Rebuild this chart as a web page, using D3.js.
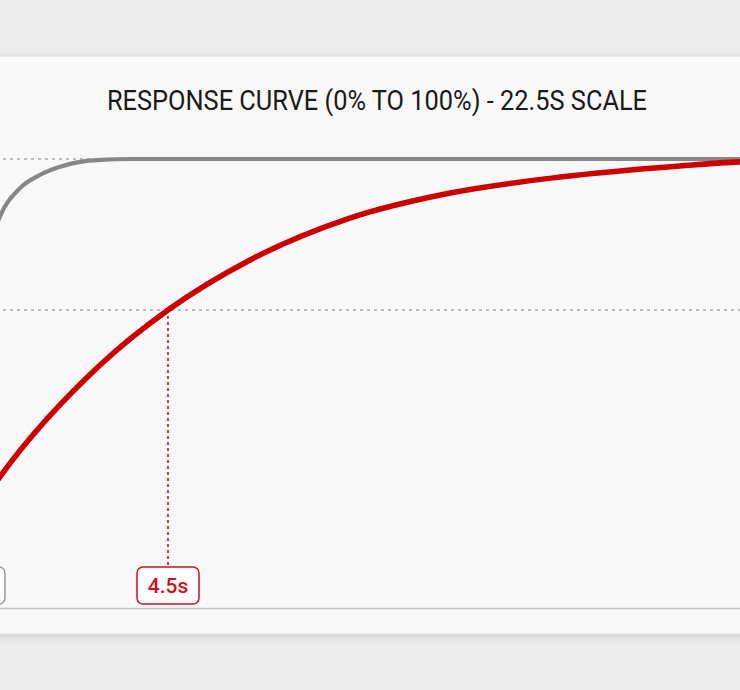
<!DOCTYPE html>
<html>
<head>
<meta charset="utf-8">
<script src="https://cdn.jsdelivr.net/npm/d3@7"></script>
<style>
  body { margin: 0; background: #ececec; overflow: hidden; }
  svg { display: block; }
</style>
</head>
<body>
<svg></svg>
<script>
// Chart values (time in seconds, response in %)
const title = "RESPONSE CURVE (0% TO 100%) - 22.5S SCALE";
const redTimes  = [0, 1.18, 3.16, 4.5, 6.12, 8.09, 10.07, 12.24, 14.6, 15.79, 18, 22.5];
const redValues = [0, 22.5, 49.8, 63.2, 75.4, 85.6, 91.7, 95.6, 98.3, 99.3, 99.8, 100];
const grayTimes  = [0, 0.35, 0.67, 1.18, 1.58, 1.97, 2.37, 2.76, 3.16, 3.75, 22.5];
const grayValues = [0, 40, 63.2, 85.9, 92.9, 96.1, 98.1, 99.3, 99.8, 100, 100];
const refLevels = [100, 63.2];
const markerTimes  = [0.67, 4.5];
const markerLabels = ["0.7s", "4.5s"];

const width = 740;
const height = 690;
const svg = d3.select("svg").attr("width", width).attr("height", height);

// Scales: the view is a close crop, so the time range runs past both edges
const xScale = d3.scaleLinear().domain([0, 22.5]).range([-60, 1080]);
const yScale = d3.scaleLinear().domain([-9.4, 100]).range([608, 159]);

// Card behind the chart
const defs = svg.append("defs");
const shadow = defs.append("filter").attr("id", "shadow")
    .attr("x", "-10%").attr("y", "-10%").attr("width", "120%").attr("height", "120%");
shadow.append("feDropShadow")
    .attr("dx", 0).attr("dy", 2).attr("stdDeviation", 3)
    .attr("flood-color", "#000").attr("flood-opacity", 0.12);

svg.append("rect")
    .attr("x", -40).attr("y", 56)
    .attr("width", width + 80).attr("height", 578)
    .attr("fill", "#f8f8f8")
    .attr("stroke", "#dcdcdc")
    .attr("filter", "url(#shadow)");

// Title
svg.append("text")
    .text(title)
    .attr("x", 377)
    .attr("y", 110)
    .attr("text-anchor", "middle")
    .attr("textLength", 540)
    .attr("lengthAdjust", "spacingAndGlyphs")
    .style("font-family", "Roboto, 'Noto Sans', sans-serif")
    .style("font-size", "27px")
    .style("fill", "#1a1a1a");

// Reference levels (dotted)
svg.selectAll(".ref")
  .data(refLevels)
  .enter()
  .append("line")
    .attr("class", "ref")
    .attr("x1", xScale(0)).attr("x2", xScale(22.5))
    .attr("y1", d => yScale(d)).attr("y2", d => yScale(d))
    .attr("stroke", "#a9a9a9")
    .attr("stroke-width", 1.6)
    .attr("stroke-dasharray", "3,4");

// Baseline
const xAxis = d3.axisBottom(xScale).ticks(0).tickSizeOuter(0);
svg.append("g")
    .attr("transform", `translate(0,${yScale(-9.4)})`)
    .call(xAxis)
    .call(g => g.select(".domain").attr("stroke", "#c6c6c6").attr("stroke-width", 1.6));

// Marker drop lines
const markerColors = ["#9a9a9a", "#cc1020"];
svg.selectAll(".drop")
  .data(markerTimes)
  .enter()
  .append("line")
    .attr("class", "drop")
    .attr("x1", d => xScale(d)).attr("x2", d => xScale(d))
    .attr("y1", yScale(63.2)).attr("y2", 567)
    .attr("stroke", (d, i) => markerColors[i])
    .attr("stroke-width", 1.6)
    .attr("stroke-dasharray", "3,3");

// Curves
const line = d3.line()
    .x(d => xScale(d[0]))
    .y(d => yScale(d[1]))
    .curve(d3.curveMonotoneX);

svg.append("path")
    .datum(d3.zip(grayTimes, grayValues))
    .attr("d", line)
    .attr("fill", "none")
    .attr("stroke", "#878787")
    .attr("stroke-width", 4.2)
    .attr("stroke-linecap", "round");

svg.append("path")
    .datum(d3.zip(redTimes, redValues))
    .attr("d", line)
    .attr("fill", "none")
    .attr("stroke", "#cc0000")
    .attr("stroke-width", 5.5)
    .attr("stroke-linecap", "round");

// Marker labels
const markers = svg.selectAll(".marker")
  .data(markerTimes)
  .enter()
  .append("g")
    .attr("class", "marker")
    .attr("transform", d => `translate(${xScale(d)},585.5)`);

markers.append("rect")
    .attr("x", -31).attr("y", -18.5)
    .attr("width", 62).attr("height", 37)
    .attr("rx", 6)
    .attr("fill", "#fdfdfd")
    .attr("stroke", (d, i) => markerColors[i])
    .attr("stroke-width", 1.5);

markers.append("text")
    .text((d, i) => markerLabels[i])
    .attr("y", 7.5)
    .attr("text-anchor", "middle")
    .style("font-family", "Roboto, 'Noto Sans', sans-serif")
    .style("font-size", "21px")
    .style("font-weight", 500)
    .style("fill", (d, i) => markerColors[i]);
</script>
</body>
</html>
